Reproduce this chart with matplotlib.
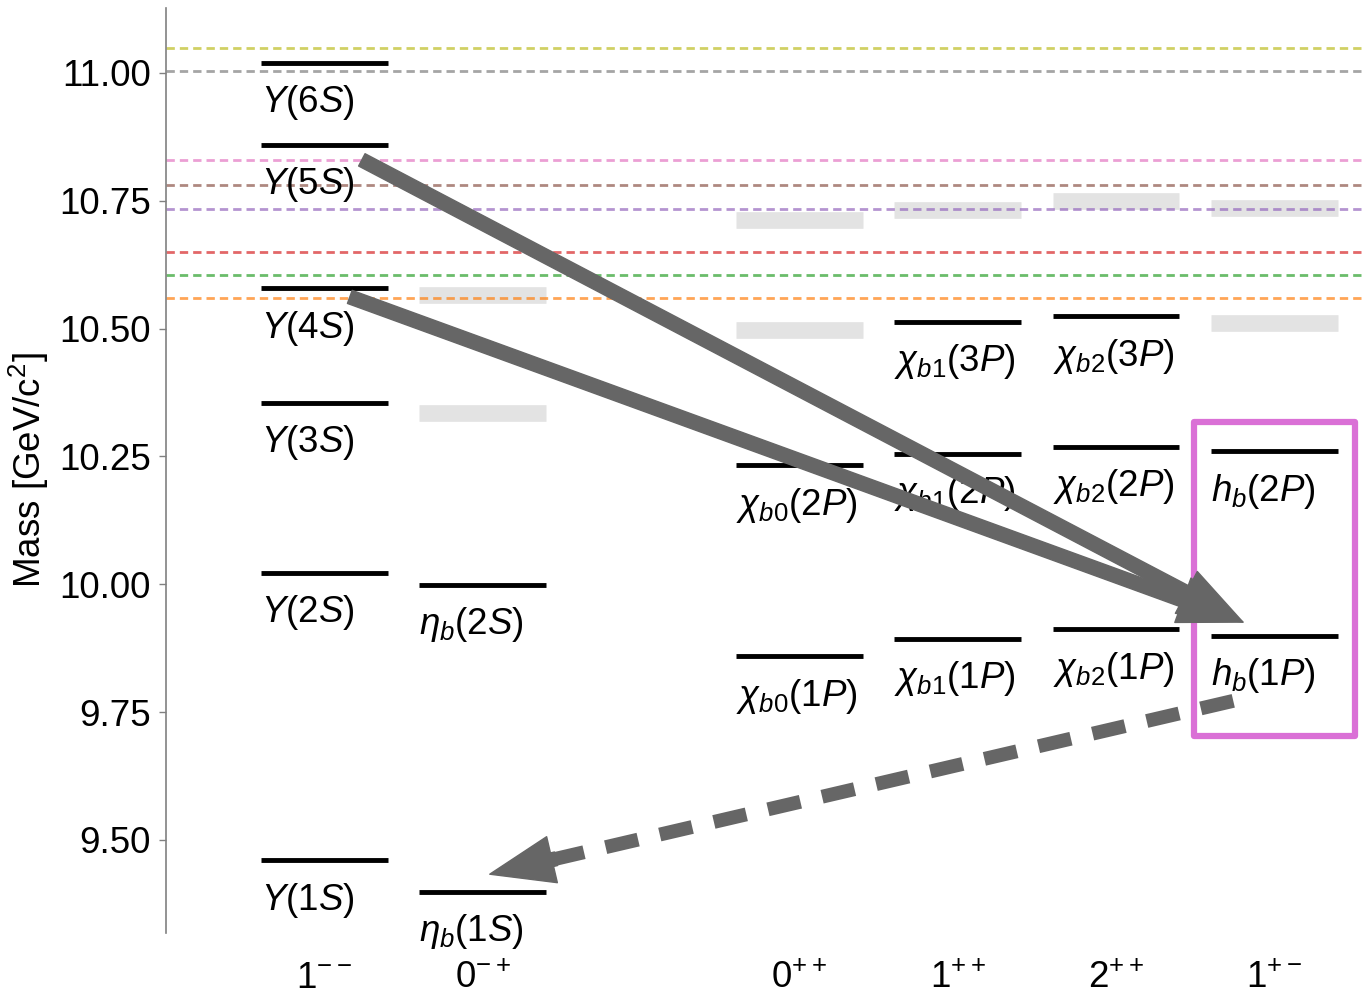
import numpy as np
import matplotlib
matplotlib.use('Agg')
import matplotlib.pyplot as plt
from matplotlib.patches import FancyArrowPatch, Rectangle, ArrowStyle

plt.rcParams['font.family'] = 'Liberation Sans'
plt.rcParams['mathtext.fontset'] = 'custom'
plt.rcParams['mathtext.rm'] = 'Liberation Sans'
plt.rcParams['mathtext.it'] = 'Liberation Sans:italic'
plt.rcParams['mathtext.bf'] = 'Liberation Sans:bold'
# slanted capital Greek via \mathsf
plt.rcParams['mathtext.sf'] = 'Liberation Sans:italic'

FS = 26.5

# J^PC columns (gap left between the S-wave and P-wave groups)
jpc_labels = [r'$1^{--}$', r'$0^{-+}$', r'$0^{++}$', r'$1^{++}$', r'$2^{++}$', r'$1^{+-}$']
jpc_pos = [0, 1, 3, 4, 5, 6]

# observed bottomonium states [GeV/c^2]
obs_col = [0, 0, 0, 0, 0, 0, 1, 1, 2, 2, 3, 3, 3, 4, 4, 4, 5, 5]
obs_mass = [9.460, 10.023, 10.355, 10.579, 10.860, 11.020,
            9.399, 9.999,
            9.859, 10.233,
            9.893, 10.255, 10.513,
            9.912, 10.269, 10.524,
            9.899, 10.260]
obs_names = [r'$\mathsf{\Upsilon}(1S)$', r'$\mathsf{\Upsilon}(2S)$', r'$\mathsf{\Upsilon}(3S)$',
             r'$\mathsf{\Upsilon}(4S)$', r'$\mathsf{\Upsilon}(5S)$', r'$\mathsf{\Upsilon}(6S)$',
             r'$\eta_b(1S)$', r'$\eta_b(2S)$',
             r'$\chi_{b0}(1P)$', r'$\chi_{b0}(2P)$',
             r'$\chi_{b1}(1P)$', r'$\chi_{b1}(2P)$', r'$\chi_{b1}(3P)$',
             r'$\chi_{b2}(1P)$', r'$\chi_{b2}(2P)$', r'$\chi_{b2}(3P)$',
             r'$h_b(1P)$', r'$h_b(2P)$']

# predicted, not yet observed states
pred_col = [1, 1, 2, 2, 3, 4, 5, 5]
pred_mass = [10.335, 10.565, 10.498, 10.712, 10.731, 10.749, 10.511, 10.735]

# open-bottom thresholds
thr_mass = [10.559, 10.604, 10.650, 10.733, 10.780, 10.830, 11.004, 11.049]
thr_color = ['#ff7f0e', '#2ca02c', '#d62728', '#9467bd', '#8c564b',
             '#e377c2', '#7f7f7f', '#bcbd22']

# transitions: (x, mass) start -> end
trans_solid = [((0.237, 10.830), (5.802, 9.926)),
               ((0.161, 10.562), (5.802, 9.926))]
trans_dashed = ((5.741, 9.772), (1.045, 9.433))

half_w = 0.4
arrow_clr = '#666666'

fig = plt.figure(figsize=(13.65, 10.01), dpi=100)
ax = fig.add_axes([166 / 1365, 1 - 933 / 1001, 1 - 166 / 1365, (933 - 8) / 1001])
ax.set_xlim(-1.0, 6.573)
ax.set_ylim(9.318, 11.127)

for m, c in zip(thr_mass, thr_color):
    ax.axhline(m, color=c, lw=2.0, alpha=0.7, dashes=(3.0, 1.8), zorder=2)

for col, m in zip(pred_col, pred_mass):
    x = jpc_pos[col]
    ax.plot([x - half_w, x + half_w], [m, m], color='#e3e3e3', lw=12,
            solid_capstyle='butt', zorder=1)

for col, m, name in zip(obs_col, obs_mass, obs_names):
    x = jpc_pos[col]
    ax.plot([x - half_w, x + half_w], [m, m], color='black', lw=3.5,
            solid_capstyle='butt', zorder=3)
    ax.text(x - half_w, m - 0.040, name, ha='left', va='top', fontsize=FS, zorder=3)

# h_b column highlight
ax.add_patch(Rectangle((5.493, 9.703), 1.018, 0.614, fill=False,
                       edgecolor='orchid', lw=4.5, joinstyle='round', zorder=4))

head = ArrowStyle.Simple(head_length=46, head_width=34, tail_width=10)
for a, b in trans_solid:
    ax.add_patch(FancyArrowPatch(a, b, arrowstyle=head, mutation_scale=1,
                                 color=arrow_clr, shrinkA=0, shrinkB=0, zorder=5))

# dashed transition: dashed shaft plus a solid head
a, b = np.array(trans_dashed[0]), np.array(trans_dashed[1])
pa, pb = ax.transData.transform([a, b])
L = np.hypot(*(pb - pa))
end = a + (b - a) * (1 - 40 / L)
hstart = a + (b - a) * (1 - 68 / L)
ax.plot([a[0], end[0]], [a[1], end[1]], color=arrow_clr, lw=10,
        dashes=(2.4, 1.6), solid_capstyle='butt', dash_capstyle='butt', zorder=5)
ax.add_patch(FancyArrowPatch(tuple(hstart), tuple(b), arrowstyle=head, mutation_scale=1,
                             color=arrow_clr, shrinkA=0, shrinkB=0, zorder=5))

yt = [9.50, 9.75, 10.00, 10.25, 10.50, 10.75, 11.00]
ax.set_xticks(jpc_pos)
ax.set_xticklabels(jpc_labels, fontsize=FS)
ax.tick_params(axis='x', length=0, pad=20)
ax.set_yticks(yt)
ax.set_yticklabels(['%.2f' % v for v in yt], fontsize=FS)
ax.tick_params(axis='y', length=5, width=1, color='#808080', pad=6)
for s in ['top', 'right', 'bottom']:
    ax.spines[s].set_visible(False)
ax.spines['left'].set_color('#808080')
ax.spines['left'].set_linewidth(1.2)
ax.set_ylabel(r'Mass [GeV/c$^2$]', fontsize=FS, labelpad=6)

fig.savefig('out.png', dpi=100)
